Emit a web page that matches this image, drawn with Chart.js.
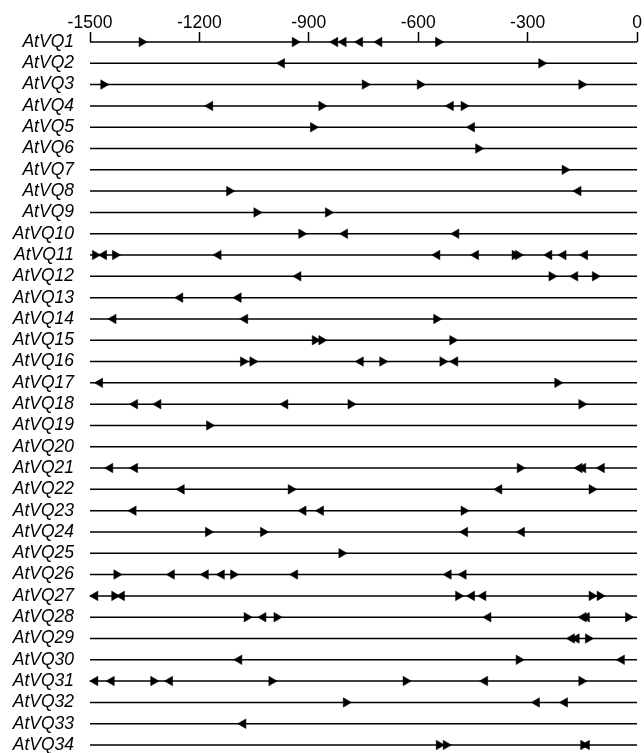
<!DOCTYPE html>
<html>
<head>
<meta charset="utf-8">
<script src="https://cdn.jsdelivr.net/npm/chart.js@4/dist/chart.umd.min.js"></script>
<style>
  html, body { margin: 0; padding: 0; background: #fff; }
  #wrap { width: 644px; height: 753px; }
</style>
</head>
<body>
<div id="wrap"><canvas id="promoterChart"></canvas></div>
<script>
// promoter rows, top to bottom
var genes = ['AtVQ1', 'AtVQ2', 'AtVQ3', 'AtVQ4', 'AtVQ5', 'AtVQ6', 'AtVQ7', 'AtVQ8', 'AtVQ9', 'AtVQ10',
    'AtVQ11', 'AtVQ12', 'AtVQ13', 'AtVQ14', 'AtVQ15', 'AtVQ16', 'AtVQ17', 'AtVQ18', 'AtVQ19', 'AtVQ20',
    'AtVQ21', 'AtVQ22', 'AtVQ23', 'AtVQ24', 'AtVQ25', 'AtVQ26', 'AtVQ27', 'AtVQ28', 'AtVQ29', 'AtVQ30',
    'AtVQ31', 'AtVQ32', 'AtVQ33', 'AtVQ34'];

// sites pointing right (one list per gene)
var fwdSites = [
    [-1358, -938, -545], [-262], [-1463, -746, -595, -152], [-865, -475], [-888],
    [-435], [-198], [-1118], [-1043, -847], [-920],
    [-1486, -1431, -335, -326], [-234, -115], [], [-550], [-883, -865, -506],
    [-1080, -1054, -698, -533], [-218], [-785, -152], [-1173], [],
    [-321], [-949, -124], [-475], [-1176, -1025], [-810],
    [-1427, -1107], [-1433, -490, -124, -102], [-1070, -988, -24], [-134], [-324],
    [-1326, -1002, -634, -152], [-798], [], [-543, -524, -147]
];

// sites pointing left
var revSites = [
    [-828, -805, -760, -707], [-974], [], [-1171, -511], [-453],
    [], [], [-161], [], [-801, -496],
    [-1462, -1148, -548, -442, -241, -202, -143], [-929, -170], [-1253, -1093], [-1436, -1075], [],
    [-758, -499], [-1473], [-1377, -1313, -965], [], [],
    [-1445, -1377, -158, -148, -97], [-1249, -378], [-1381, -915, -867], [-472, -316], [],
    [-1276, -1183, -1139, -938, -517, -476], [-1486, -1413, -453, -422], [-1025, -408, -147, -138], [-179, -166], [-1091, -42],
    [-1486, -1441, -1281, -417], [-275, -198], [-1080], [-138]
];

var tickValues = [-1500, -1200, -900, -600, -300, 0];
var promoterStart = -1500;
var promoterEnd = 0;

var datasets = [];

// arrow heads
var fwdPoints = [];
var revPoints = [];
genes.forEach(function (g, i) {
    fwdSites[i].forEach(function (v) { fwdPoints.push({x: v, y: g}); });
    revSites[i].forEach(function (v) { revPoints.push({x: v, y: g}); });
});
datasets.push({
    data: fwdPoints,
    pointStyle: 'triangle',
    rotation: 90,
    pointRadius: 5.5,
    backgroundColor: '#000',
    borderColor: '#000',
    borderWidth: 0.5,
    showLine: false,
    clip: false,
    order: 0
});
datasets.push({
    data: revPoints,
    pointStyle: 'triangle',
    rotation: -90,
    pointRadius: 5.5,
    backgroundColor: '#000',
    borderColor: '#000',
    borderWidth: 0.5,
    showLine: false,
    clip: false,
    order: 0
});

// one line per promoter
genes.forEach(function (g) {
    datasets.push({
        data: [{x: promoterStart, y: g}, {x: promoterEnd, y: g}],
        showLine: true,
        borderColor: '#000',
        borderWidth: 1.5,
        pointRadius: 0,
        clip: false,
        order: 1
    });
});

var ctx = document.getElementById('promoterChart').getContext('2d');
var chart = new Chart(ctx, {
    type: 'scatter',
    data: { datasets: datasets },
    options: {
        responsive: true,
        maintainAspectRatio: false,
        animation: false,
        layout: { padding: { left: 0, right: 7, top: 0, bottom: 8 } },
        plugins: {
            legend: { display: false },
            tooltip: { enabled: false }
        },
        scales: {
            x: {
                type: 'linear',
                position: 'top',
                min: promoterStart,
                max: promoterEnd,
                afterBuildTicks: function (scale) {
                    scale.ticks = tickValues.map(function (v) { return {value: v}; });
                },
                afterFit: function (scale) {
                    scale.height = 42;
                    scale.paddingLeft = 0;
                    scale.paddingRight = 0;
                },
                ticks: {
                    color: '#000',
                    padding: -2,
                    font: { family: 'Liberation Sans', size: 17.5 },
                    callback: function (v) { return String(v); }
                },
                grid: {
                    drawOnChartArea: false,
                    drawTicks: true,
                    tickLength: 10,
                    tickWidth: 1.5,
                    tickColor: '#000'
                },
                border: { display: false }
            },
            y: {
                type: 'category',
                labels: genes,
                offset: false,
                afterFit: function (scale) {
                    scale.width = 90;
                    scale.paddingTop = 0;
                    scale.paddingBottom = 0;
                },
                ticks: {
                    autoSkip: false,
                    color: '#000',
                    padding: 16,
                    font: { family: 'Liberation Sans', size: 17.5, style: 'italic' }
                },
                grid: { display: false, drawTicks: false },
                border: { display: false }
            }
        }
    }
});
</script>
</body>
</html>
